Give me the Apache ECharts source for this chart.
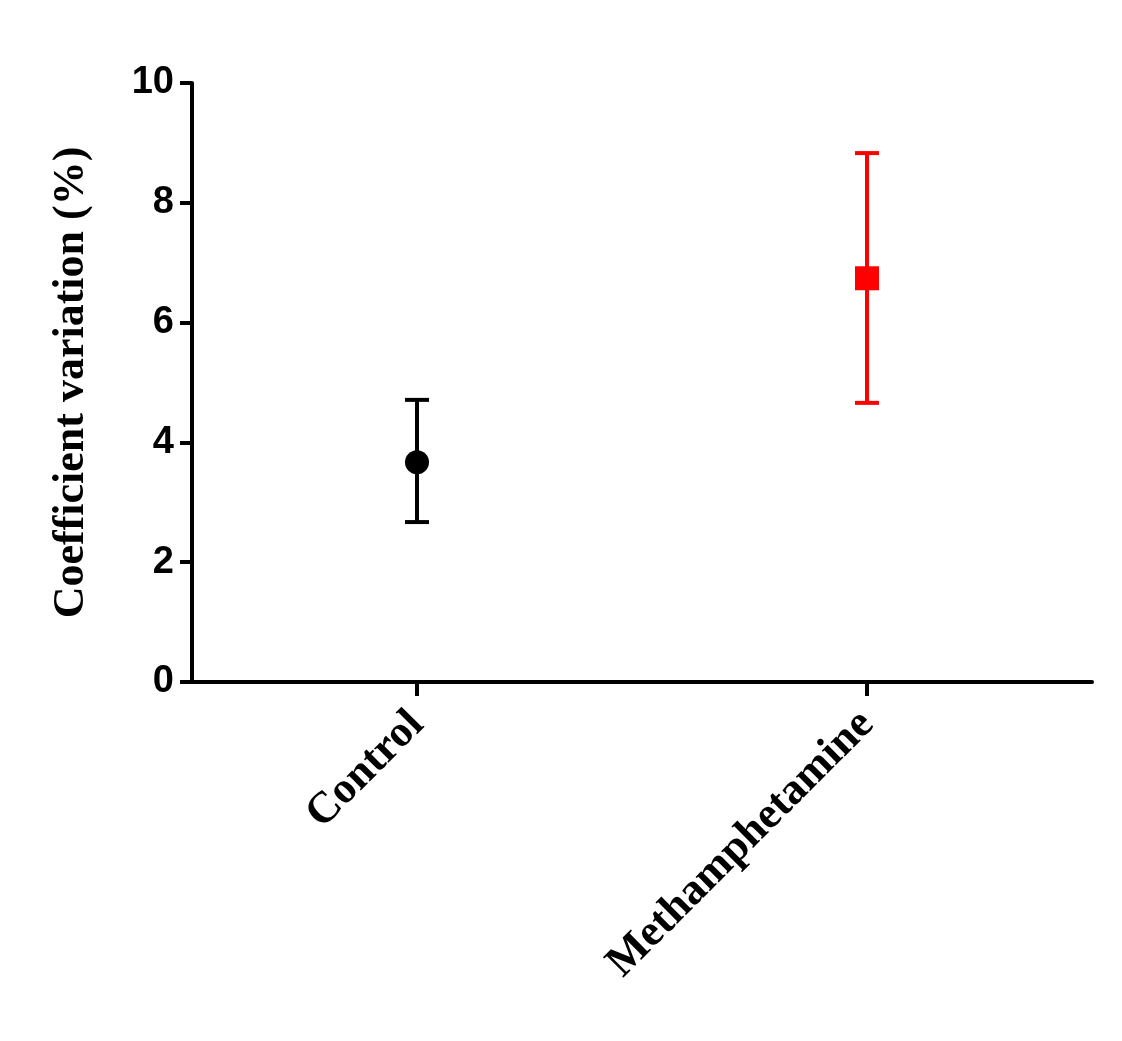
<!DOCTYPE html>
<html><head><meta charset="utf-8">
<script src="https://cdn.jsdelivr.net/npm/echarts@6/dist/echarts.min.js"></script>
<style>html,body{margin:0;padding:0;background:#fff}#c{width:1122px;height:1041px}</style>
</head><body><div id="c"></div>
<script>
const categories = ['Control', 'Methamphetamine'];
const means = [3.67, 6.74];
const lowers = [2.67, 4.66];
const uppers = [4.71, 8.83];
const colors = ['#000000', '#ff0000'];
const symbols = ['circle', 'rect'];

const chart = echarts.init(document.getElementById('c'));
chart.setOption({
  animation: false,
  grid: {left: 192, right: 30, top: 83, bottom: 359},
  xAxis: {
    type: 'category', data: categories,
    axisLine: {lineStyle: {color: '#000', width: 4}},
    axisTick: {show: true, alignWithLabel: true, length: 14, lineStyle: {width: 4, color: '#000'}},
    axisLabel: {rotate: 45, margin: 36, color: '#000', fontFamily: 'Liberation Serif', fontWeight: 'bold', fontSize: 44}
  },
  yAxis: {
    type: 'value', min: 0, max: 10, interval: 2,
    name: 'Coefficient variation (%)', nameLocation: 'middle', nameGap: 98,
    nameTextStyle: {color: '#000', fontFamily: 'Liberation Serif', fontWeight: 'bold', fontSize: 44},
    splitLine: {show: false},
    axisLine: {show: true, lineStyle: {color: '#000', width: 4}},
    axisTick: {show: true, length: 12, lineStyle: {width: 4, color: '#000'}},
    axisLabel: {margin: 18, color: '#000', fontFamily: 'Liberation Sans', fontWeight: 'bold', fontSize: 38}
  },
  series: [
    {
      type: 'custom',
      data: categories.map((c, i) => [i, lowers[i], uppers[i]]),
      renderItem: function (params, api) {
        const i = api.value(0);
        const lo = api.coord([i, api.value(1)]);
        const hi = api.coord([i, api.value(2)]);
        const w = 12;
        const st = {stroke: colors[i], lineWidth: 4};
        return {type: 'group', children: [
          {type: 'line', shape: {x1: lo[0], y1: lo[1], x2: hi[0], y2: hi[1]}, style: st},
          {type: 'line', shape: {x1: lo[0]-w, y1: lo[1], x2: lo[0]+w, y2: lo[1]}, style: st},
          {type: 'line', shape: {x1: hi[0]-w, y1: hi[1], x2: hi[0]+w, y2: hi[1]}, style: st}
        ]};
      },
      z: 2
    },
    {
      type: 'scatter',
      data: categories.map((c, i) => ({value: [i, means[i]], symbol: symbols[i], itemStyle: {color: colors[i], opacity: 1}})),
      symbolSize: 24,
      z: 3
    }
  ]
});
</script></body></html>
